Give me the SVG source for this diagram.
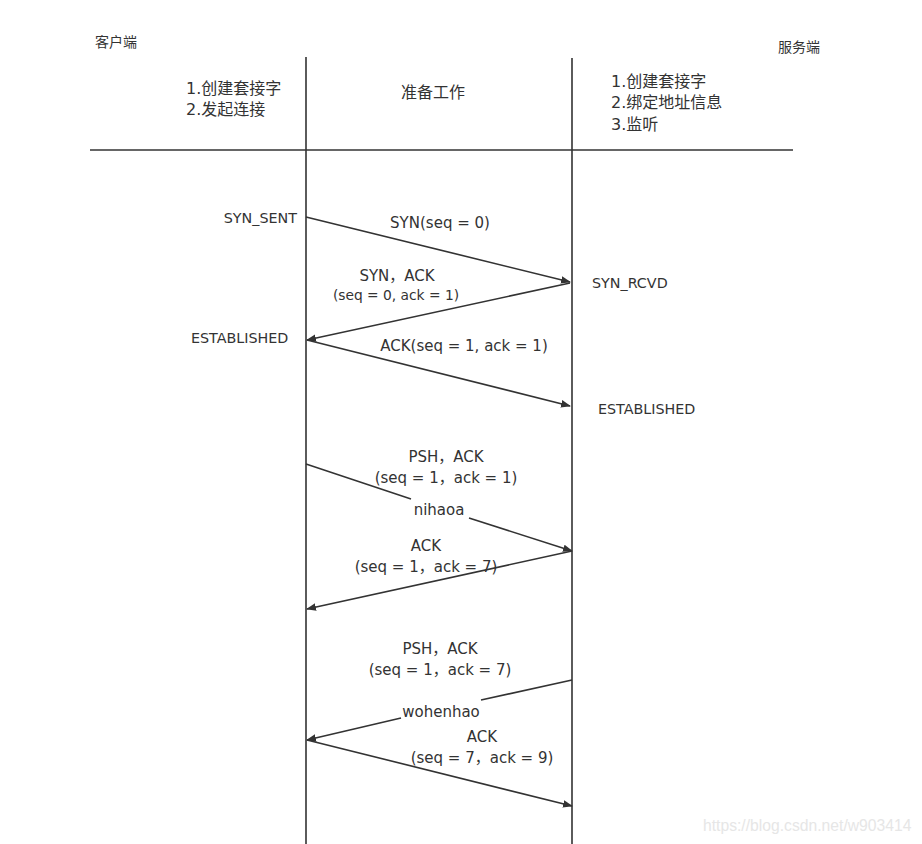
<svg xmlns="http://www.w3.org/2000/svg" width="922" height="844" viewBox="0 0 922 844">
<style>
text{font-family:"DejaVu Sans","Noto Sans CJK SC",sans-serif;fill:#333;font-size:15px}
.h{font-size:14px}
.k{font-size:16px}
.s{font-size:13.8px}
.m{font-size:14.3px}
.c{text-anchor:middle}
.e{text-anchor:end}
.ln{stroke:#333;stroke-width:1.6;fill:none}
.ar{stroke:#333;stroke-width:1.6;fill:none;marker-end:url(#ah)}
.wm{fill:#e6e6e6;font-size:15.7px;font-family:"Liberation Sans",sans-serif}
</style>
<defs>
<marker id="ah" viewBox="0 0 10 10" refX="9" refY="5" markerWidth="10" markerHeight="10" markerUnits="userSpaceOnUse" orient="auto">
<path d="M0,1.2 L10,5 L0,8.8 Z" fill="#333"/>
</marker>
</defs>
<rect width="922" height="844" fill="#fff"/>
<g id="frame">
<line class="ln" x1="306" y1="57" x2="306" y2="844"/>
<line class="ln" x1="572" y1="58" x2="572" y2="844"/>
<line class="ln" x1="90" y1="150" x2="793" y2="150"/>
</g>
<g id="header">
<text id="client" class="h" x="95" y="47">客户端</text>
<text id="server" class="h" x="778" y="52">服务端</text>
<g id="client-steps"><text class="k" x="186" y="94">1.创建套接字</text><text class="k" x="186" y="115">2.发起连接</text></g>
<text id="prep" class="k c" x="433" y="98">准备工作</text>
<g id="server-steps"><text class="k" x="611" y="87">1.创建套接字</text><text class="k" x="611" y="108">2.绑定地址信息</text><text class="k" x="611" y="130">3.监听</text></g>
</g>
<g id="states">
<text class="m e" x="297" y="223">SYN_SENT</text>
<text class="m" x="592" y="288">SYN_RCVD</text>
<text class="m" x="191" y="343">ESTABLISHED</text>
<text class="m" x="598" y="414">ESTABLISHED</text>
</g>
<g id="connectors">
<line class="ar" x1="306" y1="217" x2="570" y2="282"/>
<line class="ar" x1="570" y1="283" x2="307" y2="340"/>
<line class="ar" x1="307" y1="340" x2="570" y2="406"/>
<line class="ln" x1="306" y1="464" x2="411" y2="499"/>
<line class="ar" x1="469" y1="518" x2="572" y2="551"/>
<line class="ar" x1="572" y1="551" x2="307" y2="609"/>
<line class="ln" x1="572" y1="680" x2="481" y2="700"/>
<line class="ar" x1="401" y1="718" x2="307" y2="740"/>
<line class="ar" x1="307" y1="740" x2="572" y2="806"/>
</g>
<g id="labels">
<text class="c" x="440" y="228">SYN(seq = 0)</text>
<text class="c" x="397" y="281">SYN，ACK</text>
<text class="s c" x="396" y="300">(seq = 0, ack = 1)</text>
<text class="c" x="464" y="351">ACK(seq = 1, ack = 1)</text>
<text class="c" x="446" y="462">PSH，ACK</text>
<text class="c" x="446" y="483">(seq = 1，ack = 1)</text>
<text class="c" x="439" y="515">nihaoa</text>
<text class="c" x="426" y="551">ACK</text>
<text class="c" x="426" y="572">(seq = 1，ack = 7)</text>
<text class="c" x="440" y="654">PSH，ACK</text>
<text class="c" x="440" y="675">(seq = 1，ack = 7)</text>
<text class="c" x="441" y="717">wohenhao</text>
<text class="c" x="482" y="742">ACK</text>
<text class="c" x="482" y="763">(seq = 7，ack = 9)</text>
</g>
<text class="wm" x="703" y="831">https://blog.csdn.net/w903414</text>
</svg>
